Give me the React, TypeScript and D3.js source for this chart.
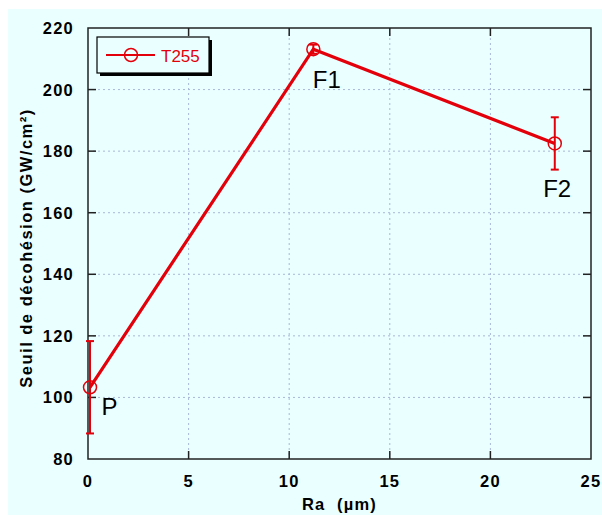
import React from "react";
import * as d3 from "d3";

const xTicks = [0, 5, 10, 15, 20, 25];
const yTicks = [80, 100, 120, 140, 160, 180, 200, 220];
const labels = ["P", "F1", "F2"];
const raValues = [0.1, 11.2, 23.2];
const seuilValues = [103.3, 213.1, 182.5];
const errValues = [15, 1.5, 8.5];
const seriesName = "T255";

const W = 602, H = 515;
const left = 88, right = 591, top = 28, bottom = 459;
const RED = "#e4000a";
const FONT = "'Liberation Sans', Arial, sans-serif";

export default function App() {
  const x = d3.scaleLinear().domain([0, 25]).range([left, right]);
  const y = d3.scaleLinear().domain([80, 220]).range([bottom, top]);
  const line = d3.line<number>().x((_, i) => x(raValues[i])).y((v) => y(v));
  const labelOffsets = [[11.5, 28], [-0.6, 38.4], [-11.6, 53.4]];
  return (
    <svg width={W} height={H} style={{ position: "absolute", left: 0, top: 0 }}>
      <rect x={8} y={9} width={W - 8} height={H - 9} fill="#eaffff" />
      {/* grid */}
      {xTicks.slice(1, -1).map((t) => (
        <line key={"gx" + t} x1={x(t)} x2={x(t)} y1={top} y2={bottom} stroke="#a9b8d8" strokeWidth={1} strokeDasharray="2,3" />
      ))}
      {yTicks.slice(1, -1).map((t) => (
        <line key={"gy" + t} x1={left} x2={right} y1={y(t)} y2={y(t)} stroke="#a9b8d8" strokeWidth={1} strokeDasharray="2,3" />
      ))}
      {/* ticks */}
      {xTicks.slice(1, -1).map((t) => (
        <g key={"tx" + t}>
          <line x1={x(t)} x2={x(t)} y1={bottom} y2={bottom - 8} stroke="#222" strokeWidth={1.5} />
          <line x1={x(t)} x2={x(t)} y1={top} y2={top + 8} stroke="#222" strokeWidth={1.5} />
        </g>
      ))}
      {yTicks.slice(1, -1).map((t) => (
        <g key={"ty" + t}>
          <line x1={left} x2={left + 8} y1={y(t)} y2={y(t)} stroke="#222" strokeWidth={1.5} />
          <line x1={right} x2={right - 8} y1={y(t)} y2={y(t)} stroke="#222" strokeWidth={1.5} />
        </g>
      ))}
      <rect x={left} y={top} width={right - left} height={bottom - top} fill="none" stroke="#222" strokeWidth={1.5} />
      {/* tick labels */}
      {xTicks.map((t) => (
        <text key={"lx" + t} x={x(t)} y={bottom + 28} textAnchor="middle" fontFamily={FONT} fontWeight="bold" fontSize={16.5} letterSpacing={1.2} fill="#000">{t}</text>
      ))}
      {yTicks.map((t) => (
        <text key={"ly" + t} x={74} y={y(t) + 6} textAnchor="end" fontFamily={FONT} fontWeight="bold" fontSize={16.5} letterSpacing={1.2} fill="#000">{t}</text>
      ))}
      {/* axis titles */}
      <text x={(left + right) / 2} y={510} textAnchor="middle" fontFamily={FONT} fontWeight="bold" fontSize={16.5} letterSpacing={1.2} fill="#000" style={{ whiteSpace: "pre" }}>Ra  (µm)</text>
      <text transform={`translate(32,248) rotate(-90)`} textAnchor="middle" fontFamily={FONT} fontWeight="bold" fontSize={16.5} letterSpacing={1.5} fill="#000">Seuil de décohésion (GW/cm²)</text>
      {/* line */}
      <path d={line(seuilValues) || ""} fill="none" stroke={RED} strokeWidth={3.2} />
      {seuilValues.map((v, i) => (
        <g key={"pt" + i}>
          <line x1={x(raValues[i])} x2={x(raValues[i])} y1={y(v - errValues[i])} y2={y(v + errValues[i])} stroke={RED} strokeWidth={2} />
          <line x1={x(raValues[i]) - 4} x2={x(raValues[i]) + 4} y1={y(v - errValues[i])} y2={y(v - errValues[i])} stroke={RED} strokeWidth={2} />
          <line x1={x(raValues[i]) - 4} x2={x(raValues[i]) + 4} y1={y(v + errValues[i])} y2={y(v + errValues[i])} stroke={RED} strokeWidth={2} />
          <circle cx={x(raValues[i])} cy={y(v)} r={6.5} fill="none" stroke={RED} strokeWidth={1.5} />
          <text x={x(raValues[i]) + labelOffsets[i][0]} y={y(v) + labelOffsets[i][1]} fontFamily={FONT} fontSize={24} fill="#000">{labels[i]}</text>
        </g>
      ))}
      {/* legend */}
      <rect x={100} y={40} width={112} height={36} fill="#000" />
      <rect x={97} y={37} width={112} height={36} fill="#eaffff" stroke="#000" strokeWidth={1.2} />
      <line x1={106} x2={155} y1={55} y2={55} stroke={RED} strokeWidth={2} />
      <circle cx={131} cy={55} r={6.5} fill="none" stroke={RED} strokeWidth={1.5} />
      <text x={161} y={62} fontFamily={FONT} fontSize={17} fill={RED}>{seriesName}</text>
    </svg>
  );
}
